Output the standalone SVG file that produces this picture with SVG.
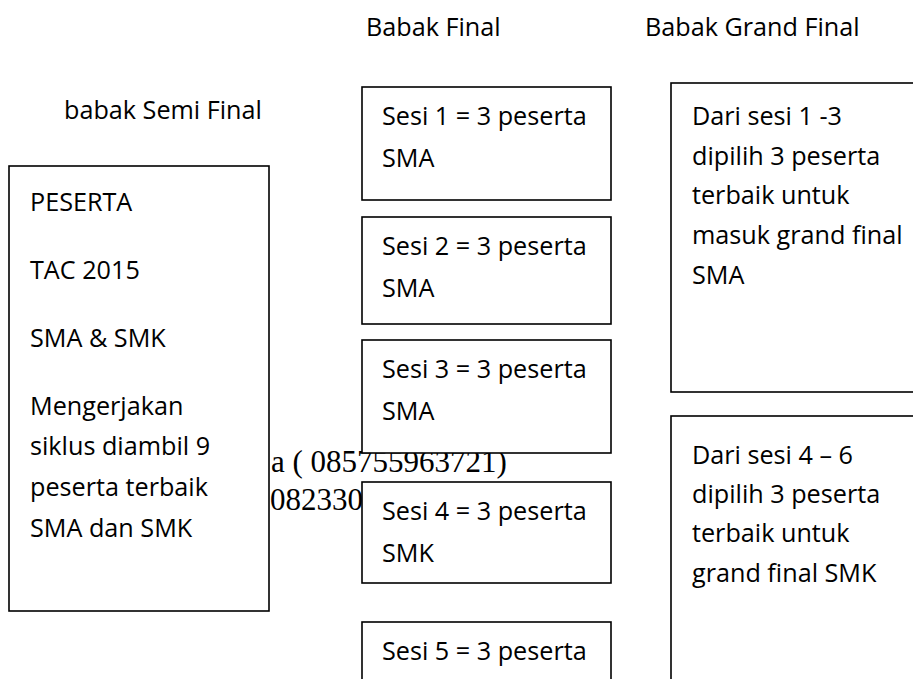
<svg xmlns="http://www.w3.org/2000/svg" width="913" height="679" viewBox="0 0 913 679">
<style>
.t{font-family:"Open Sans","Noto Sans",sans-serif;font-size:25.2px;fill:#000}
.s{font-family:"Liberation Serif","Times New Roman",serif;font-size:31px;fill:#000}
.b{fill:#fff;stroke:#000;stroke-width:1.6}
</style>
<rect width="913" height="679" fill="#fff"/>
<g id="titles">
<text class="t" x="366" y="36">Babak Final</text>
<text class="t" x="645" y="36">Babak Grand Final</text>
<text class="t" x="64" y="119">babak Semi Final</text>
</g>
<g id="background-text">
<text class="s" x="271" y="472">a ( 085755963721)</text>
<text class="s" x="270" y="510">082330</text>
</g>
<g id="connectors"></g>
<g id="peserta">
<rect class="b" x="9" y="166" width="260" height="445"/>
<text class="t" x="30" y="211">PESERTA</text>
<text class="t" x="30" y="279">TAC 2015</text>
<text class="t" x="30" y="347">SMA &amp; SMK</text>
<text class="t" x="30" y="415">Mengerjakan</text>
<text class="t" x="30" y="455">siklus diambil 9</text>
<text class="t" x="30" y="496">peserta terbaik</text>
<text class="t" x="30" y="537">SMA dan SMK</text>
</g>
<g id="sesi1">
<rect class="b" x="362" y="87" width="249" height="113"/>
<text class="t" x="382" y="125">Sesi 1 = 3 peserta</text>
<text class="t" x="382" y="167">SMA</text>
</g>
<g id="sesi2">
<rect class="b" x="362" y="217" width="249" height="107"/>
<text class="t" x="382" y="255">Sesi 2 = 3 peserta</text>
<text class="t" x="382" y="297">SMA</text>
</g>
<g id="sesi3">
<rect class="b" x="362" y="340" width="249" height="113"/>
<text class="t" x="382" y="378">Sesi 3 = 3 peserta</text>
<text class="t" x="382" y="420">SMA</text>
</g>
<g id="sesi4">
<rect class="b" x="362" y="482" width="249" height="101"/>
<text class="t" x="382" y="520">Sesi 4 = 3 peserta</text>
<text class="t" x="382" y="562">SMK</text>
</g>
<g id="sesi5">
<rect class="b" x="362" y="622" width="249" height="80"/>
<text class="t" x="382" y="660">Sesi 5 = 3 peserta</text>
</g>
<g id="grandfinal-sma">
<rect class="b" x="671" y="83" width="260" height="309"/>
<text class="t" x="692" y="125">Dari sesi 1 -3</text>
<text class="t" x="692" y="165">dipilih 3 peserta</text>
<text class="t" x="692" y="204">terbaik untuk</text>
<text class="t" x="692" y="244">masuk grand final</text>
<text class="t" x="692" y="284">SMA</text>
</g>
<g id="grandfinal-smk">
<rect class="b" x="671" y="416" width="260" height="280"/>
<text class="t" x="692" y="464">Dari sesi 4 – 6</text>
<text class="t" x="692" y="503">dipilih 3 peserta</text>
<text class="t" x="692" y="542">terbaik untuk</text>
<text class="t" x="692" y="582">grand final SMK</text>
</g>
</svg>
